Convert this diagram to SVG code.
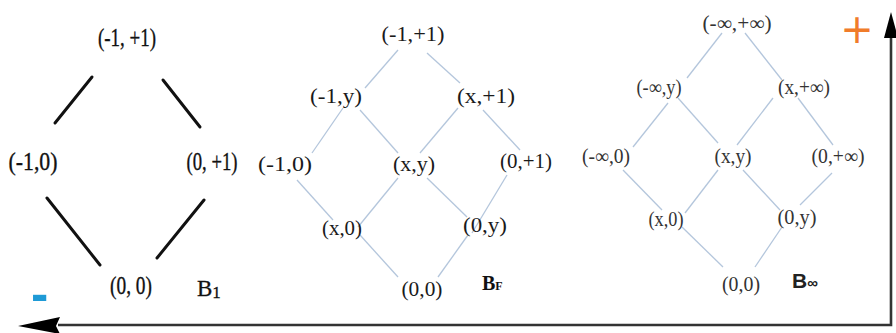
<svg xmlns="http://www.w3.org/2000/svg" width="896" height="333" viewBox="0 0 896 333">
<style>
text{font-family:"Liberation Serif","Times New Roman",serif;text-anchor:middle}
.b1{font-size:26px;fill:#111;stroke:#111;stroke-width:0.35}
.bf{font-size:21px;fill:#1a1a1a}
.bi{font-size:20px;fill:#333}
.lk{stroke:#111;stroke-width:3;stroke-linecap:round;fill:none}
.lb{stroke:#b4c6dc;stroke-width:1.3;fill:none}
.ax{stroke:#333;stroke-width:2.6;fill:none}
.tag{font-weight:bold;text-anchor:start}
</style>
<rect width="896" height="333" fill="#fff"/>
<g id="connectors">
<g id="b1-edges">
<line class="lk" x1="92" y1="77" x2="55" y2="123"/>
<line class="lk" x1="163" y1="80" x2="200" y2="127"/>
<line class="lk" x1="47" y1="198" x2="100" y2="265"/>
<line class="lk" x1="204" y1="200" x2="157" y2="258"/>
</g>
<g id="bf-edges">
<line class="lb" x1="398" y1="50" x2="365" y2="88"/>
<line class="lb" x1="427" y1="53" x2="460" y2="83"/>
<line class="lb" x1="343" y1="108" x2="312" y2="153"/>
<line class="lb" x1="360" y1="110" x2="398" y2="153"/>
<line class="lb" x1="458" y1="108" x2="420" y2="153"/>
<line class="lb" x1="483" y1="110" x2="520" y2="150"/>
<line class="lb" x1="297" y1="180" x2="333" y2="220"/>
<line class="lb" x1="398" y1="178" x2="358" y2="227"/>
<line class="lb" x1="427" y1="178" x2="467" y2="217"/>
<line class="lb" x1="507" y1="175" x2="472" y2="233"/>
<line class="lb" x1="360" y1="235" x2="398" y2="277"/>
<line class="lb" x1="468" y1="235" x2="438" y2="277"/>
</g>
<g id="binf-edges">
<line class="lb" x1="722" y1="33" x2="687" y2="78"/>
<line class="lb" x1="745" y1="33" x2="782" y2="80"/>
<line class="lb" x1="668" y1="103" x2="633" y2="147"/>
<line class="lb" x1="678" y1="98" x2="718" y2="143"/>
<line class="lb" x1="773" y1="98" x2="737" y2="145"/>
<line class="lb" x1="798" y1="98" x2="833" y2="145"/>
<line class="lb" x1="623" y1="170" x2="662" y2="210"/>
<line class="lb" x1="718" y1="170" x2="685" y2="213"/>
<line class="lb" x1="743" y1="170" x2="780" y2="210"/>
<line class="lb" x1="832" y1="173" x2="800" y2="205"/>
<line class="lb" x1="682" y1="227" x2="723" y2="267"/>
<line class="lb" x1="782" y1="227" x2="755" y2="267"/>
</g>
<g id="axes">
<polyline class="ax" points="58,325 891,325 891,36"/>
<polygon points="891,12 884,38 898,38" fill="#000"/>
<polygon points="18,326 60,317 56,326 60,334" fill="#000"/>
</g>
</g>
<g id="b1-top"><text class="b1" x="127" y="46" textLength="58" lengthAdjust="spacingAndGlyphs">(-1, +1)</text></g>
<g id="b1-left"><text class="b1" x="33" y="170" textLength="49" lengthAdjust="spacingAndGlyphs">(-1,0)</text></g>
<g id="b1-right"><text class="b1" x="212" y="170" textLength="51" lengthAdjust="spacingAndGlyphs">(0, +1)</text></g>
<g id="b1-bottom"><text class="b1" x="131" y="294" textLength="42" lengthAdjust="spacingAndGlyphs">(0, 0)</text></g>
<g id="b1-label"><text x="197" y="296" font-size="23" fill="#111" stroke="#111" stroke-width="0.3" style="text-anchor:start">B<tspan font-size="17" dy="2">1</tspan></text></g>

<g id="bf-top"><text class="bf" x="413" y="41" textLength="63" lengthAdjust="spacingAndGlyphs">(-1,+1)</text></g>
<g id="bf-m1y"><text class="bf" x="336" y="103" textLength="52" lengthAdjust="spacingAndGlyphs">(-1,y)</text></g>
<g id="bf-xp1"><text class="bf" x="486" y="103" textLength="58" lengthAdjust="spacingAndGlyphs">(x,+1)</text></g>
<g id="bf-m10"><text class="bf" x="285" y="171" textLength="54" lengthAdjust="spacingAndGlyphs">(-1,0)</text></g>
<g id="bf-xy"><text class="bf" x="414" y="171" textLength="42" lengthAdjust="spacingAndGlyphs">(x,y)</text></g>
<g id="bf-0p1"><text class="bf" x="526" y="168" textLength="52" lengthAdjust="spacingAndGlyphs">(0,+1)</text></g>
<g id="bf-x0"><text class="bf" x="342" y="235" textLength="40" lengthAdjust="spacingAndGlyphs">(x,0)</text></g>
<g id="bf-0y"><text class="bf" x="485" y="232" textLength="44" lengthAdjust="spacingAndGlyphs">(0,y)</text></g>
<g id="bf-00"><text class="bf" x="422" y="296" textLength="41" lengthAdjust="spacingAndGlyphs">(0,0)</text></g>
<g id="bf-label"><text class="tag" x="482" y="290" font-size="20" fill="#111">B<tspan font-size="12">F</tspan></text></g>

<g id="binf-top"><text class="bi" x="737" y="30" textLength="69" lengthAdjust="spacingAndGlyphs">(-∞,+∞)</text></g>
<g id="binf-miy"><text class="bi" x="659" y="94" textLength="45" lengthAdjust="spacingAndGlyphs">(-∞,y)</text></g>
<g id="binf-xpi"><text class="bi" x="804" y="94" textLength="52" lengthAdjust="spacingAndGlyphs">(x,+∞)</text></g>
<g id="binf-mi0"><text class="bi" x="606" y="163" textLength="48" lengthAdjust="spacingAndGlyphs">(-∞,0)</text></g>
<g id="binf-xy"><text class="bi" x="733" y="163" textLength="37" lengthAdjust="spacingAndGlyphs">(x,y)</text></g>
<g id="binf-0pi"><text class="bi" x="838" y="163" textLength="53" lengthAdjust="spacingAndGlyphs">(0,+∞)</text></g>
<g id="binf-x0"><text class="bi" x="666" y="226" textLength="35" lengthAdjust="spacingAndGlyphs">(x,0)</text></g>
<g id="binf-0y"><text class="bi" x="797" y="224" textLength="39" lengthAdjust="spacingAndGlyphs">(0,y)</text></g>
<g id="binf-00"><text class="bi" x="741" y="291" textLength="38" lengthAdjust="spacingAndGlyphs">(0,0)</text></g>
<g id="binf-label"><text class="tag" x="792" y="288" font-size="21" fill="#222" style="font-family:'Liberation Sans',sans-serif">B<tspan font-size="15">∞</tspan></text></g>

<g id="plus"><text x="857" y="43" font-size="40" fill="#f07c2a" style="font-family:'DejaVu Sans',sans-serif">+</text></g>
<g id="minus"><text x="31" y="311" font-size="52" font-weight="bold" fill="#1e9ad6" style="font-family:'Liberation Sans',sans-serif;text-anchor:start">-</text></g>
</svg>
